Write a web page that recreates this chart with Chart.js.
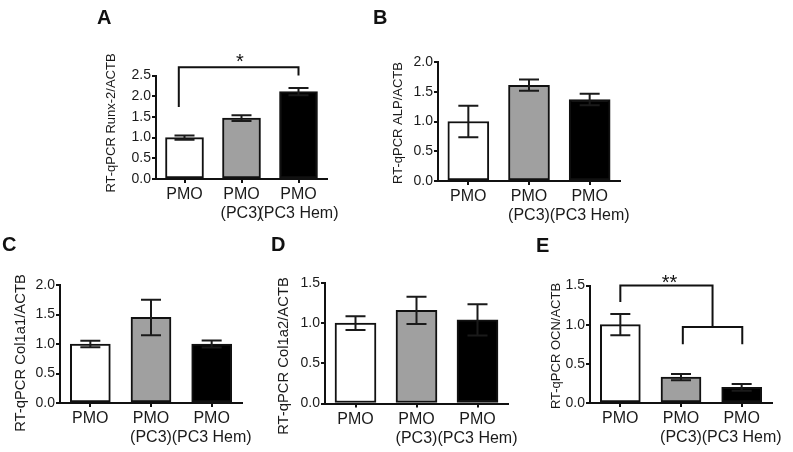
<!DOCTYPE html>
<html>
<head>
<meta charset="utf-8">
<script src="https://cdn.jsdelivr.net/npm/chart.js@4"></script>
<style>
  body { margin: 0; background: #fff; }
  #wrap { position: relative; width: 793px; height: 452px; overflow: hidden; }
  #wrap canvas { position: absolute; left: 0; top: 0; }
  .lit { position: absolute; font: bold 20px "Liberation Sans", Arial, sans-serif; line-height: 1; color: #111; }
</style>
</head>
<body>
<div id="wrap">
  <canvas id="chA" width="793" height="452"></canvas>
  <canvas id="chB" width="793" height="452"></canvas>
  <canvas id="chC" width="793" height="452"></canvas>
  <canvas id="chD" width="793" height="452"></canvas>
  <canvas id="chE" width="793" height="452"></canvas>
  <div class="lit" style="left:97px;top:7px">A</div>
  <div class="lit" style="left:373px;top:7px">B</div>
  <div class="lit" style="left:2px;top:234px">C</div>
  <div class="lit" style="left:271px;top:234px">D</div>
  <div class="lit" style="left:536px;top:235px">E</div>
</div>
<script>
// dane
const categories = [["PMO"], ["PMO", "(PC3)"], ["PMO", "(PC3 Hem)"]];
const barColors = ["#ffffff", "#a0a0a0", "#000000"];

const runx2 = [1.0, 1.47, 2.11];
const runx2Err = [0.05, 0.07, 0.09];
const alp = [1.0, 1.61, 1.37];
const alpErr = [0.265, 0.095, 0.095];
const col1a1 = [1.0, 1.45, 1.0];
const col1a1Err = [0.055, 0.3, 0.06];
const col1a2 = [1.0, 1.16, 1.04];
const col1a2Err = [0.085, 0.17, 0.195];
const ocn = [1.0, 0.33, 0.2];
const ocnErr = [0.135, 0.04, 0.043];

const ticksA = [0, 0.5, 1, 1.5, 2, 2.5];
const ticksB = [0, 0.5, 1, 1.5, 2];
const ticksC = [0, 0.5, 1, 1.5, 2];
const ticksD = [0, 0.5, 1, 1.5];
const ticksE = [0, 0.5, 1, 1.5];

// significance brackets, [category index, value]
const sigA = [[-0.1, 1.74], [-0.1, 2.7], [2, 2.7], [2, 2.5]];
const sigE1 = [[0, 1.29], [0, 1.5], [1.52, 1.5], [1.52, 0.97]];
const sigE2 = [[1.03, 0.75], [1.03, 0.97], [2.01, 0.97], [2.01, 0.75]];
const starA = ["*", 0.97, 2.69];
const starE = ["**", 0.81, 1.456];

Chart.defaults.font.family = '"Liberation Sans", Arial, sans-serif';
Chart.defaults.color = "#1a1a1a";

// error bars, brackets, stars, y title
const extras = {
  id: "extras",
  afterDatasetsDraw(chart, args, o) {
    const ctx = chart.ctx;
    const xs = chart.scales.x;
    const ys = chart.scales.y;
    ctx.save();
    ctx.strokeStyle = "#1a1a1a";
    ctx.lineWidth = 2;
    o.values.forEach((v, i) => {
      const x = xs.getPixelForValue(i);
      const t = ys.getPixelForValue(v + o.err[i]);
      const b = ys.getPixelForValue(v - o.err[i]);
      ctx.beginPath();
      ctx.moveTo(x, t); ctx.lineTo(x, b);
      ctx.moveTo(x - 10, t); ctx.lineTo(x + 10, t);
      ctx.moveTo(x - 10, b); ctx.lineTo(x + 10, b);
      ctx.stroke();
    });
    ctx.strokeStyle = "#111";
    o.brackets.forEach(br => {
      ctx.beginPath();
      br.forEach((p, k) => {
        const px = xs.getPixelForValue(p[0]);
        const py = ys.getPixelForValue(p[1]);
        if (k) ctx.lineTo(px, py); else ctx.moveTo(px, py);
      });
      ctx.stroke();
    });
    ctx.fillStyle = "#111";
    ctx.font = '20px "Liberation Sans", Arial, sans-serif';
    ctx.textAlign = "center";
    ctx.textBaseline = "alphabetic";
    o.stars.forEach(s => {
      ctx.fillText(s[0], xs.getPixelForValue(s[1]), ys.getPixelForValue(s[2]));
    });
    ctx.fillStyle = "#1a1a1a";
    ctx.font = o.titleSize + 'px "Liberation Sans", Arial, sans-serif';
    ctx.textBaseline = "middle";
    ctx.translate(o.titleX, o.titleY);
    ctx.rotate(-Math.PI / 2);
    ctx.fillText(o.title, 0, 0);
    ctx.restore();
  }
};

function makePanel(id, P) {
  return new Chart(document.getElementById(id), {
    type: "bar",
    data: {
      labels: categories,
      datasets: [{
        data: P.values,
        backgroundColor: barColors,
        borderColor: "#111",
        borderWidth: 2,
        borderSkipped: false,
        barThickness: P.bw
      }]
    },
    options: {
      responsive: false,
      animation: false,
      layout: { padding: { left: P.left - 40, top: P.top, right: 793 - P.right, bottom: 0 } },
      plugins: {
        legend: { display: false },
        tooltip: { enabled: false },
        extras: {
          values: P.values, err: P.err, brackets: P.brackets || [], stars: P.stars || [],
          title: P.title, titleX: P.tx, titleY: P.ty, titleSize: P.ts
        }
      },
      scales: {
        x: {
          grid: { offset: false, drawOnChartArea: false, tickLength: 4, color: "#111", lineWidth: 2 },
          border: { color: "#111", width: 2 },
          ticks: { font: { size: 16, lineHeight: 1.2 }, padding: 2, maxRotation: 0, autoSkip: false },
          afterFit: s => { s.height = 452 - P.bottom; }
        },
        y: {
          min: 0,
          max: P.ticks[P.ticks.length - 1],
          afterBuildTicks: s => { s.ticks = P.ticks.map(v => ({ value: v })); },
          grid: { drawOnChartArea: false, tickLength: 4, color: "#111", lineWidth: 2 },
          border: { color: "#111", width: 2 },
          ticks: { callback: v => v.toFixed(1), font: { size: 14 }, padding: 1 },
          afterFit: s => { s.width = 40; }
        }
      }
    },
    plugins: [extras]
  });
}

makePanel("chA", { values: runx2, err: runx2Err, ticks: ticksA, left: 156, right: 327, top: 75.5, bottom: 179, bw: 38,
  title: "RT-qPCR Runx-2/ACTB", tx: 111, ty: 123, ts: 13, brackets: [sigA], stars: [starA] });
makePanel("chB", { values: alp, err: alpErr, ticks: ticksB, left: 438, right: 620, top: 62, bottom: 181, bw: 41,
  title: "RT-qPCR ALP/ACTB", tx: 398, ty: 123, ts: 13 });
makePanel("chC", { values: col1a1, err: col1a1Err, ticks: ticksC, left: 60, right: 242, top: 285, bottom: 403, bw: 40,
  title: "RT-qPCR Col1a1/ACTB", tx: 21, ty: 353, ts: 14.8 });
makePanel("chD", { values: col1a2, err: col1a2Err, ticks: ticksD, left: 325, right: 508, top: 283, bottom: 403.5, bw: 41,
  title: "RT-qPCR Col1a2/ACTB", tx: 284, ty: 356, ts: 14.8 });
makePanel("chE", { values: ocn, err: ocnErr, ticks: ticksE, left: 590, right: 772, top: 285.5, bottom: 403, bw: 40,
  title: "RT-qPCR OCN/ACTB", tx: 556, ty: 346, ts: 13, brackets: [sigE1, sigE2], stars: [starE] });
</script>
</body>
</html>
